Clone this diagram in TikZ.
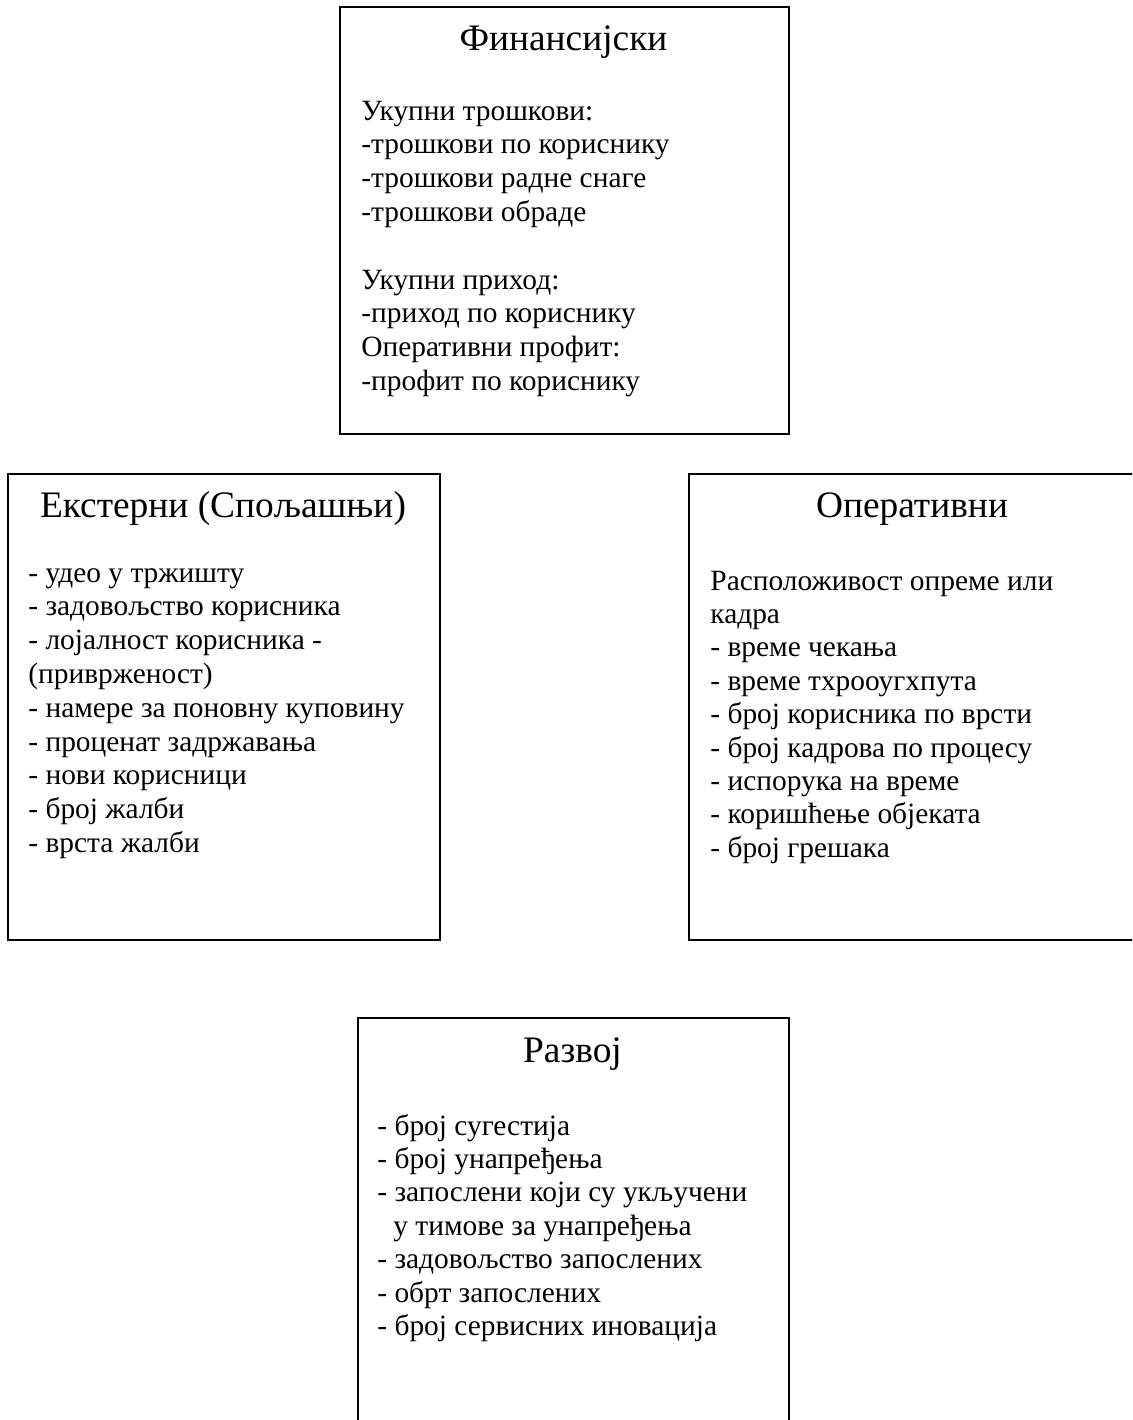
\documentclass[tikz,border=0pt]{standalone}
\usepackage{fontspec}
\setmainfont{Liberation Serif}
\tikzset{
  box/.style={draw=black, line width=1.1pt, anchor=north west, inner sep=0pt},
  ttl/.style={anchor=base, font=\fontsize{18.7}{22}\selectfont, inner sep=0pt},
  txt/.style={anchor=base west, font=\fontsize{14.7}{17}\selectfont, inner sep=0pt},
}
\begin{document}
\begin{tikzpicture}[x=0.5pt,y=-0.5pt]
\useasboundingbox (0,0) rectangle (1132,1420);
\clip (0,0) rectangle (1132,1420);
% boxes
\node[box, minimum width=224.5pt, minimum height=213.5pt] (fin) at (339,6) {};
\node[box, minimum width=216pt, minimum height=233pt] (ext) at (7,473) {};
\node[box, minimum width=224pt, minimum height=233pt] (op) at (688,473) {};
\node[box, minimum width=215.5pt, minimum height=230pt] (dev) at (357,1017) {};
% titles
\node[ttl] (fint) at (563.5,50) {Финансијски};
\node[ttl] (extt) at (223,517) {Екстерни (Спољашњи)};
\node[ttl] (opt) at (912,517) {Оперативни};
\node[ttl] (devt) at (572.5,1062) {Развој};
% financial
\foreach \s [count=\i from 0] in {Укупни трошкови:,-трошкови по кориснику,-трошкови радне снаге,-трошкови обраде}
  \node[txt] (fina\i) at (361,{120+33.8*\i}) {\s};
\foreach \s [count=\i from 0] in {Укупни приход:,-приход по кориснику,Оперативни профит:,-профит по кориснику}
  \node[txt] (finb\i) at (361,{289+33.8*\i}) {\s};
% external
\foreach \s [count=\i from 0] in {- удео у тржишту,- задовољство корисника,- лојалност корисника -,(приврженост),- намере за поновну куповину,- проценат задржавања,- нови корисници,- број жалби,- врста жалби}
  \node[txt] (ext\i) at (28,{582+33.8*\i}) {\s};
% operative
\foreach \s [count=\i from 0] in {Расположивост опреме или,кадра,- време чекања,- време тхрооугхпута,- број корисника по врсти,- број кадрова по процесу,- испорука на време,- коришћење објеката,- број грешака}
  \node[txt] (op\i) at (710,{590+33.4*\i}) {\s};
% development
\foreach \s/\xx [count=\i from 0] in {- број сугестија/377,- број унапређења/377,- запослени који су укључени/377,у тимове за унапређења/393,- задовољство запослених/377,- обрт запослених/377,- број сервисних иновација/377}
  \node[txt] (dev\i) at (\xx,{1135+33.4*\i}) {\s};
\end{tikzpicture}
\end{document}
